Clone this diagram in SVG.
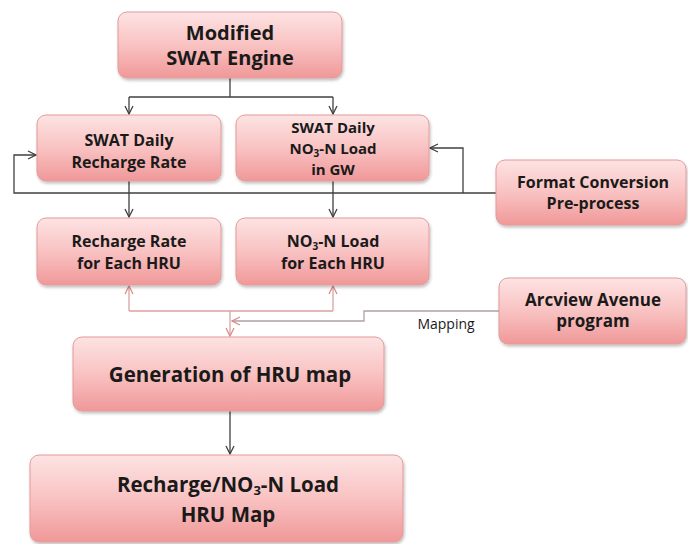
<svg xmlns="http://www.w3.org/2000/svg" width="688" height="544" viewBox="0 0 688 544">
<defs>
<linearGradient id="g" x1="0" y1="0" x2="0" y2="1">
<stop offset="0" stop-color="#fde3e3"/>
<stop offset="0.5" stop-color="#f9c2c2"/>
<stop offset="1" stop-color="#f09898"/>
</linearGradient>
<filter id="sh" x="-10%" y="-10%" width="120%" height="130%">
<feDropShadow dx="1" dy="2" stdDeviation="1.5" flood-color="#000" flood-opacity="0.25"/>
</filter>
<marker id="ad" viewBox="0 0 10 10" refX="9" refY="5" markerWidth="10" markerHeight="10" markerUnits="userSpaceOnUse" orient="auto">
<path d="M1,1 L9,5 L1,9" fill="none" stroke="#404040" stroke-width="1.3"/>
</marker>
<marker id="ar" viewBox="0 0 10 10" refX="9" refY="5" markerWidth="10" markerHeight="10" markerUnits="userSpaceOnUse" orient="auto">
<path d="M1,1 L9,5 L1,9" fill="none" stroke="#d98c8c" stroke-width="1.3"/>
</marker>
</defs>
<style>
.box{fill:url(#g);stroke:#e39a9a;stroke-width:1;filter:url(#sh)}
.t{font-family:"Open Sans","Noto Sans",sans-serif;font-weight:700;fill:#1a1a1a;text-anchor:middle}
.dk{fill:none;stroke:#404040;stroke-width:1.3}
.rd{fill:none;stroke:#dca0a0;stroke-width:1.3}
.gy{fill:none;stroke:#b0a0a0;stroke-width:1.3}
</style>
<rect width="688" height="544" fill="#fff"/>
<g id="connectors">
<path class="dk" d="M230,78 V97"/>
<path class="dk" d="M129,97 H333"/>
<path class="dk" d="M129,97 V114" marker-end="url(#ad)"/>
<path class="dk" d="M333,97 V114" marker-end="url(#ad)"/>
<path class="dk" d="M496,193 H14 V155 H36" marker-end="url(#ad)"/>
<path class="dk" d="M463,193 V148 H430" marker-end="url(#ad)"/>
<path class="dk" d="M129,181 V217" marker-end="url(#ad)"/>
<path class="dk" d="M333,181 V217" marker-end="url(#ad)"/>
<path class="rd" d="M129,311 V286" marker-end="url(#ar)"/>
<path class="rd" d="M333,311 V286" marker-end="url(#ar)"/>
<path class="rd" d="M129,311 H333"/>
<path class="rd" d="M230,311 V336" marker-end="url(#ar)"/>
<path class="gy" d="M499,311 H364 V321 H232" marker-end="url(#ar)"/>
<text x="446" y="329" font-family="'Open Sans','Noto Sans',sans-serif" font-size="14" text-anchor="middle" fill="#1a1a1a">Mapping</text>
<path class="dk" d="M230,411 V454" marker-end="url(#ad)"/>
</g>
<g id="n-engine">
<rect class="box" x="118" y="12" width="224" height="66" rx="9"/>
<text class="t" x="230" y="40" font-size="20">Modified</text>
<text class="t" x="230" y="65" font-size="20">SWAT Engine</text>
</g>
<g id="n-daily-recharge">
<rect class="box" x="37" y="115" width="184" height="66" rx="9"/>
<text class="t" x="129" y="146" font-size="16">SWAT Daily</text>
<text class="t" x="129" y="168" font-size="16">Recharge Rate</text>
</g>
<g id="n-daily-no3">
<rect class="box" x="236" y="115" width="193" height="66" rx="9"/>
<text class="t" x="333" y="133" font-size="15">SWAT Daily</text>
<text class="t" x="333" y="154" font-size="15">NO<tspan font-size="10" dy="3">3</tspan><tspan dy="-3">-N Load</tspan></text>
<text class="t" x="333" y="175" font-size="15">in GW</text>
</g>
<g id="n-format">
<rect class="box" x="496" y="160" width="190" height="65" rx="9"/>
<text class="t" x="593" y="188" font-size="16">Format Conversion</text>
<text class="t" x="593" y="209" font-size="16">Pre-process</text>
</g>
<g id="n-recharge-hru">
<rect class="box" x="37" y="218" width="184" height="67" rx="9"/>
<text class="t" x="129" y="247" font-size="16">Recharge Rate</text>
<text class="t" x="129" y="269" font-size="16">for Each HRU</text>
</g>
<g id="n-no3-hru">
<rect class="box" x="236" y="218" width="193" height="67" rx="9"/>
<text class="t" x="333" y="247" font-size="16">NO<tspan font-size="10" dy="3">3</tspan><tspan dy="-3">-N Load</tspan></text>
<text class="t" x="333" y="269" font-size="16">for Each HRU</text>
</g>
<g id="n-arcview">
<rect class="box" x="499" y="278" width="187" height="66" rx="9"/>
<text class="t" x="593" y="306" font-size="17">Arcview Avenue</text>
<text class="t" x="593" y="327" font-size="17">program</text>
</g>
<g id="n-generation">
<rect class="box" x="73" y="337" width="311" height="74" rx="9"/>
<text class="t" x="230" y="382" font-size="20.5">Generation of HRU map</text>
</g>
<g id="n-final">
<rect class="box" x="30" y="455" width="373" height="87" rx="9"/>
<text class="t" x="228" y="492" font-size="20.5">Recharge/NO<tspan font-size="13" dy="3">3</tspan><tspan dy="-3">-N Load</tspan></text>
<text class="t" x="228" y="522" font-size="20.5">HRU Map</text>
</g>
</svg>
